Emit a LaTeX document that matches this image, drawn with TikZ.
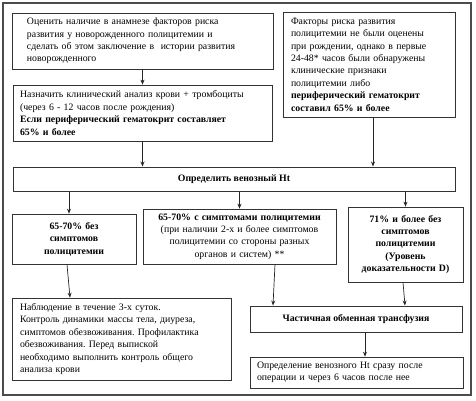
\documentclass[tikz,border=0pt]{standalone}
\usepackage{fontspec}
\setmainfont{Liberation Serif}
\usetikzlibrary{arrows.meta, positioning}
\frenchspacing

\begin{document}
\begin{tikzpicture}[x=1pt, y=-1pt,
    every node/.style={draw=black!80, line width=0.7pt, inner ysep=0pt,
        font=\fontsize{9.8}{12.4}\selectfont},
    lbox/.style={align=left, inner xsep=#1},
    cbox/.style={align=center, inner xsep=2pt},
    thick box/.style={line width=1pt},
    arr/.style={-{Stealth[length=5pt, width=4pt]}, line width=0.7pt, black!85}]
    \useasboundingbox (0,0) rectangle (476,400);

    % frame
    \draw[black!70, line width=1.3pt] (3,3) rectangle (471,395);

    % boxes
    \node[lbox=15pt, minimum width=261pt, minimum height=56pt, text width=231pt] (anamnez) at (142.5,41)
        {Оценить наличие в анамнезе факторов риска\\
         развития у новорожденного полицитемии и\\
         сделать об этом заключение в \ истории развития\\
         новорожденного};
    \node[lbox=8pt, minimum width=172pt, minimum height=105pt, text width=156pt] (factors) at (369,64.5)
        {Факторы риска развития\\
         полицитемии не были оценены\\
         при рождении, однако в первые\\
         24-48* часов были обнаружены\\
         клинические признаки\\
         полицитемии либо\\
         \textbf{периферический гематокрит}\\
         \textbf{составил 65\% и более}};
    \node[lbox=7pt, minimum width=259pt, minimum height=56pt, text width=245pt] (analiz) at (142.5,113)
        {Назначить клинический анализ крови + тромбоциты\\
         (через 6 - 12 часов после рождения)\\
         \textbf{Если периферический гематокрит составляет}\\
         \textbf{65\% и более}};
    \node[cbox, thick box, minimum width=442pt, minimum height=24pt] (ht) at (234,179)
        {\textbf{Определить венозный Ht}};

    \node[cbox, minimum width=124pt, minimum height=50pt, text width=120pt] (nosym) at (74,239)
        {\textbf{65-70\% без}\\ \textbf{симптомов}\\ \textbf{полицитемии}};
    \node[cbox, minimum width=193pt, minimum height=55pt, text width=189pt] (sym) at (239.5,236.5)
        {\textbf{65-70\% с симптомами полицитемии}\\
         (при наличии 2-х и более симптомов\\
         полицитемии со стороны разных\\
         органов и систем) **};
    \node[cbox, minimum width=115pt, minimum height=75pt, text width=111pt] (high) at (405.5,244.5)
        {\textbf{71\% и более без}\\ \textbf{симптомов}\\ \textbf{полицитемии}\\
         \textbf{(Уровень}\\ \textbf{доказательности D)}};

    \node[lbox=8pt, minimum width=219pt, minimum height=82pt, text width=203pt] (observ) at (121.5,339)
        {Наблюдение в течение 3-х суток.\\
         Контроль динамики массы тела, диуреза,\\
         симптомов обезвоживания. Профилактика\\
         обезвоживания. Перед выпиской\\
         необходимо выполнить контроль общего\\
         анализа крови};
    \node[cbox, thick box, minimum width=212pt, minimum height=26pt] (transf) at (356,319)
        {\textbf{Частичная обменная трансфузия}};
    \node[lbox=7pt, minimum width=213pt, minimum height=31pt, text width=199pt] (control) at (356.5,372.5)
        {Определение венозного Ht сразу после\\
         операции и через 6 часов после нее};

    % arrows
    \draw[arr] (anamnez) -- (analiz);
    \draw[arr] (analiz.south) -- (analiz.south |- ht.north);
    \draw[arr] ([xshift=4pt]factors.south) -- ([xshift=139pt]ht.north);
    \draw[arr] ([xshift=-165pt]ht.south) -- ([xshift=-5pt]nosym.north);
    \draw[arr] (sym.north |- ht.south) -- (sym.north);
    \draw[arr] (high.north |- ht.south) -- (high.north);
    \draw[arr] ([xshift=-7pt]nosym.south) -- ([xshift=-51.5pt]observ.north);
    \draw[arr] ([xshift=35.5pt]sym.south) -- ([xshift=-83pt]transf.north);
    \draw[arr] ([xshift=-2.5pt]high.south) -- ([xshift=49pt]transf.north);
    \draw[arr] ([xshift=9pt]transf.south) -- ([xshift=8.5pt]control.north);
\end{tikzpicture}
\end{document}
